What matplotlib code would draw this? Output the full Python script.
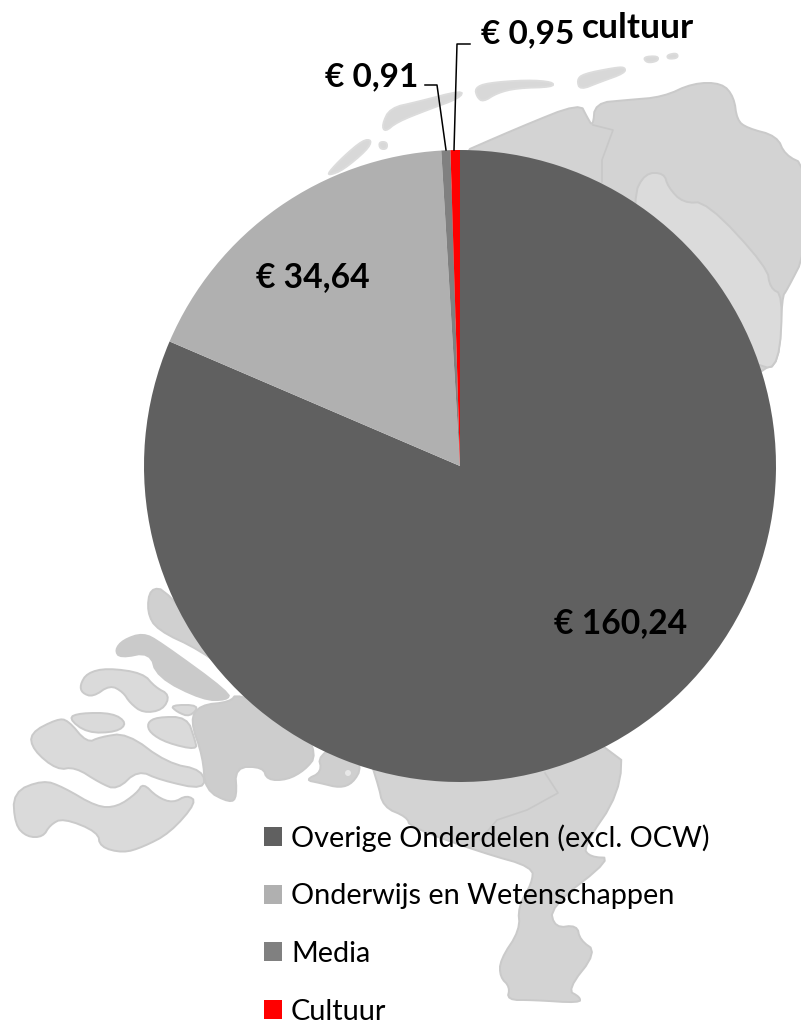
import matplotlib
matplotlib.use("Agg")
import matplotlib.pyplot as plt
import numpy as np
from matplotlib.patches import Polygon, Circle

plt.rcParams["font.family"] = ["Lato", "DejaVu Sans"]

WIDTH, HEIGHT = 801, 1024

categories = ["Overige Onderdelen (excl. OCW)", "Onderwijs en Wetenschappen", "Media", "Cultuur"]
values = [160.24, 34.64, 0.91, 0.95]
colors = ["#606060", "#b0b0b0", "#808080", "#ff0000"]

# background map, traced in picture pixels (y down)
NORTH_LAND = [(440, 162), (520, 127), (580, 103), (587, 117), (593, 127), (595, 103), (627, 100),
              (663, 97), (693, 83), (722, 83), (734, 97), (737, 120), (747, 128), (777, 136),
              (785, 155), (806, 165), (806, 253), (787, 290), (782, 297), (779, 365), (760, 369),
              (600, 500), (463, 400)]
EAST_INNER = [(633, 197), (645, 173), (664, 173), (668, 187), (683, 203), (707, 202), (767, 267),
              (770, 288), (783, 295), (779, 365), (760, 369), (640, 300)]
BORDER_FRIES = [(593, 125), (613, 130), (602, 160), (602, 182)]
SOUTH_LAND = [(350, 700), (378, 783), (383, 807), (407, 817), (410, 827), (483, 853), (533, 867),
              (532, 883), (518, 907), (520, 930), (500, 960), (500, 977), (510, 987), (507, 1000),
              (533, 1000), (580, 1003), (580, 997), (567, 990), (597, 952), (580, 940), (577, 925),
              (555, 928), (550, 907), (613, 858), (590, 857), (583, 847), (620, 793), (622, 740)]
BORDER_SOUTH = [(545, 773), (558, 793), (527, 810), (497, 820), (480, 840)]
ISLANDS = [
    [(328, 173), (343, 157), (363, 140), (372, 140), (367, 150), (343, 170), (330, 175)],
    [(379, 142), (387, 142), (387, 149), (380, 149)],
    [(382, 125), (390, 108), (417, 102), (463, 90), (460, 98), (427, 110), (397, 122), (385, 132)],
    [(475, 88), (487, 83), (527, 80), (553, 82), (553, 87), (517, 88), (497, 93), (483, 102), (477, 97)],
    [(577, 80), (583, 74), (613, 68), (625, 67), (625, 73), (600, 82), (580, 90)],
    [(643, 57), (658, 56), (658, 61), (647, 63)],
    [(667, 55), (677, 53), (678, 58), (668, 59)],
]
HOLLAND = [(150, 588), (167, 590), (240, 680), (200, 650), (157, 630), (147, 612)]
VOORNE = [(115, 650), (123, 640), (143, 633), (160, 642), (230, 693), (227, 700), (203, 700),
          (157, 677), (150, 652), (120, 658)]
BRABANT = [(200, 705), (230, 702), (237, 693), (300, 720), (317, 755), (305, 770), (287, 780),
           (267, 780), (263, 767), (235, 767), (237, 797), (230, 803), (205, 790), (203, 757),
           (190, 720)]
DORDT = [(318, 755), (322, 772), (305, 780), (320, 783), (340, 788), (353, 783), (362, 767), (350, 740)]
ZEELAND = [
    [(80, 685), (87, 673), (107, 668), (143, 673), (155, 687), (170, 695), (163, 710), (143, 713),
     (130, 703), (123, 692), (110, 685), (93, 697), (82, 693)],
    [(170, 705), (200, 705), (190, 717), (177, 712)],
    [(147, 723), (157, 717), (187, 717), (195, 740), (197, 750), (167, 743), (150, 733)],
    [(68, 718), (80, 713), (113, 713), (127, 723), (117, 732), (87, 733)],
    [(30, 733), (57, 719), (68, 720), (87, 743), (100, 737), (127, 733), (167, 763), (203, 770),
     (205, 790), (160, 780), (138, 770), (117, 790), (100, 783), (75, 767), (57, 770), (33, 750)],
    [(13, 792), (43, 780), (63, 787), (97, 807), (117, 807), (137, 793), (143, 783), (157, 797),
     (173, 803), (187, 795), (197, 802), (170, 833), (143, 847), (123, 853), (100, 847), (98, 832),
     (63, 818), (50, 825), (43, 837), (27, 837), (15, 825)],
]


def flip(points):
    pts = np.array(points, dtype=float)
    pts[:, 1] = HEIGHT - pts[:, 1]
    return pts


def rounded(pts, passes=2):
    # corner cutting, the traced outlines are too angular otherwise
    for _ in range(passes):
        nxt = np.roll(pts, -1, axis=0)
        pts = np.column_stack([0.75 * pts + 0.25 * nxt, 0.25 * pts + 0.75 * nxt]).reshape(-1, 2)
    return pts


def add_land(ax, points, face, edge="#cacaca"):
    ax.add_patch(Polygon(rounded(flip(points)), closed=True, facecolor=face, edgecolor=edge,
                         linewidth=1.4, joinstyle="round", zorder=1))


def euro(value):
    return f"€ {value:.2f}".replace(".", ",")


fig = plt.figure(figsize=(WIDTH / 100, HEIGHT / 100), dpi=100)
ax = fig.add_axes([0, 0, 1, 1])

add_land(ax, NORTH_LAND, "#d3d3d3")
add_land(ax, EAST_INNER, "#dbdbdb")
add_land(ax, SOUTH_LAND, "#d3d3d3")
for island in ISLANDS:
    add_land(ax, island, "#d8d8d8", edge="#dcdcdc")
add_land(ax, HOLLAND, "#d0d0d0")
add_land(ax, VOORNE, "#cacaca")
add_land(ax, BRABANT, "#cdcdcd")
add_land(ax, DORDT, "#cfcfcf")
for part in ZEELAND:
    add_land(ax, part, "#dadada")
ax.add_patch(Circle((348, HEIGHT - 773), 3, facecolor="#e8e8e8", edgecolor="none", zorder=1.1))
for border in (BORDER_FRIES, BORDER_SOUTH):
    pts = flip(border)
    ax.plot(pts[:, 0], pts[:, 1], color="#c8c8c8", lw=1.2, zorder=1.2)

wedges, _ = ax.pie(values, colors=colors, startangle=90, counterclock=False,
                   center=(460, HEIGHT - 466), radius=316, frame=False,
                   wedgeprops={"linewidth": 0, "zorder": 3})
ax.set_xlim(0, WIDTH)
ax.set_ylim(0, HEIGHT)
ax.set_axis_off()

bold = {"fontweight": "bold", "color": "black", "ha": "center", "va": "center", "zorder": 5}
ax.text(621, HEIGHT - 623, euro(values[0]), fontsize=24.2, **bold)
ax.text(313, HEIGHT - 277, euro(values[1]), fontsize=24.2, **bold)
ax.text(372, HEIGHT - 77, euro(values[2]), fontsize=24, **bold)
ax.text(528, HEIGHT - 34, euro(values[3]), fontsize=24, **bold)
ax.text(638, HEIGHT - 28, "cultuur", fontsize=25.5, **bold)

# leader lines
media_line = flip([(425, 85), (437, 85), (446, 150)])
cult_line = flip([(470, 44), (457, 44), (454, 150)])
for line in (media_line, cult_line):
    ax.plot(line[:, 0], line[:, 1], color="black", lw=1.1, zorder=5)

ax.legend(wedges, categories, loc="upper left", bbox_to_anchor=(264 / WIDTH, 1 - 824 / HEIGHT),
          frameon=False, fontsize=20.75, handlelength=0.625, handleheight=0.625, handletextpad=0.31,
          labelspacing=1.1, borderpad=0, borderaxespad=0)

fig.savefig("out.png", dpi=100)
